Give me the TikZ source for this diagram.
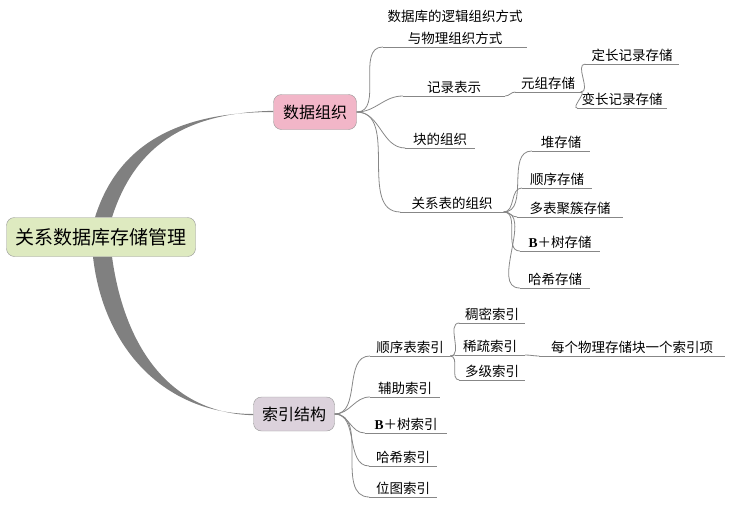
\documentclass[tikz,border=0pt]{standalone}
\usepackage{fontspec}
\setmainfont{Noto Sans CJK SC}
\newfontfamily\latinbf{Liberation Serif}
\usetikzlibrary{backgrounds}

\definecolor{rootfill}{RGB}{222,234,192}
\definecolor{datafill}{RGB}{242,182,200}
\definecolor{idxfill}{RGB}{220,210,220}
\definecolor{boxline}{RGB}{150,150,150}
\definecolor{trunkgray}{RGB}{128,128,128}
\definecolor{linegray}{RGB}{135,135,135}

\tikzset{
  mainbox/.style={draw=boxline, rounded corners=8pt, inner sep=0pt},
  topic/.style={anchor=south, inner xsep=0pt, inner ysep=2.5pt,
    font=\fontsize{13.5}{16}\selectfont},
  branch/.style={draw=linegray, line width=0.8pt},
  trunk/.style={fill=trunkgray}
}

\begin{document}
\begin{tikzpicture}[x=1pt, y=-1pt]
  \useasboundingbox (0,0) rectangle (730,506);

  % central topic and main branches
  \node[mainbox, fill=rootfill, minimum width=189pt, minimum height=39pt,
        font=\fontsize{19}{22}\selectfont] (root) at (101,237) {关系数据库存储管理};
  \node[mainbox, fill=datafill, minimum width=83pt, minimum height=35pt,
        font=\fontsize{16}{19}\selectfont] (data) at (315,112) {数据组织};
  \node[mainbox, fill=idxfill, minimum width=81pt, minimum height=34pt,
        font=\fontsize{16}{19}\selectfont] (idx) at (294,414) {索引结构};

  \begin{scope}[on background layer]
    \fill[trunk] ([xshift=-6pt]root.north) .. controls +(25,-80) and +(-85,0) .. (data.west)
      -- ([yshift=1.2pt]data.west) .. controls +(-80,2) and +(25,-78) .. ([xshift=11pt]root.north) -- cycle;
    \fill[trunk] ([xshift=-8pt]root.south) .. controls +(10,90) and +(-90,0) .. (idx.west)
      -- ([yshift=-1.2pt]idx.west) .. controls +(-85,-2) and +(12,88) .. ([xshift=11pt]root.south) -- cycle;
  \end{scope}

  % data organisation
  \node[topic, minimum width=144pt, align=center, font=\fontsize{13.5}{22}\selectfont]
    (logic) at (455,47) {数据库的逻辑组织方式\\与物理组织方式};
  \node[topic, minimum width=102pt] (rec) at (454,96) {记录表示};
  \node[topic, minimum width=65pt] (tuple) at (548,92) {元组存储};
  \node[topic, minimum width=93pt] (fixed) at (632,64) {定长记录存储};
  \node[topic, minimum width=89pt] (var) at (622,108) {变长记录存储};
  \node[topic, minimum width=69pt] (block) at (440,148) {块的组织};
  \node[topic, minimum width=103pt] (rel) at (452,212) {关系表的组织};
  \node[topic, minimum width=58pt] (heap) at (561,151) {堆存储};
  \node[topic, minimum width=70pt] (seq) at (557,188) {顺序存储};
  \node[topic, minimum width=105pt] (clus) at (570,217) {多表聚簇存储};
  \node[topic, minimum width=80pt] (bts) at (560,251) {{\latinbf\textbf{B}}＋树存储};
  \node[topic, minimum width=70pt] (hash) at (555,288) {哈希存储};

  % index structures
  \node[topic, minimum width=80pt] (seqidx) at (410,356) {顺序表索引};
  \node[topic, minimum width=65pt] (dense) at (492,323) {稠密索引};
  \node[topic, minimum width=70pt] (sparse) at (490,355) {稀疏索引};
  \node[topic, minimum width=185pt] (each) at (632,356) {每个物理存储块一个索引项};
  \node[topic, minimum width=65pt] (multi) at (492,380) {多级索引};
  \node[topic, minimum width=70pt] (aux) at (405,397) {辅助索引};
  \node[topic, minimum width=82pt] (btidx) at (406,433) {{\latinbf\textbf{B}}＋树索引};
  \node[topic, minimum width=67pt] (hashidx) at (403,466) {哈希索引};
  \node[topic, minimum width=67pt] (bitmap) at (403,497) {位图索引};

  \foreach \n in {logic,rec,tuple,fixed,var,block,rel,heap,seq,clus,bts,hash,
                  seqidx,dense,sparse,each,multi,aux,btidx,hashidx,bitmap}
    \draw[branch] (\n.south west) -- (\n.south east);

  % connectors
  \foreach \n in {logic,rec,block,rel}
    \draw[branch] (data.east) to[out=0,in=180] (\n.south west);
  \draw[branch] (rec.south east) to[out=0,in=180] (tuple.south west);
  \foreach \n in {fixed,var}
    \draw[branch] (tuple.south east) to[out=0,in=180] (\n.south west);
  \foreach \n in {heap,seq,clus,bts,hash}
    \draw[branch] (rel.south east) to[out=0,in=180] (\n.south west);

  \foreach \n in {seqidx,aux,btidx,hashidx,bitmap}
    \draw[branch] (idx.east) to[out=0,in=180] (\n.south west);
  \foreach \n in {dense,sparse,multi}
    \draw[branch] (seqidx.south east) to[out=0,in=180] (\n.south west);
  \draw[branch] (sparse.south east) to[out=0,in=180] (each.south west);
\end{tikzpicture}
\end{document}
